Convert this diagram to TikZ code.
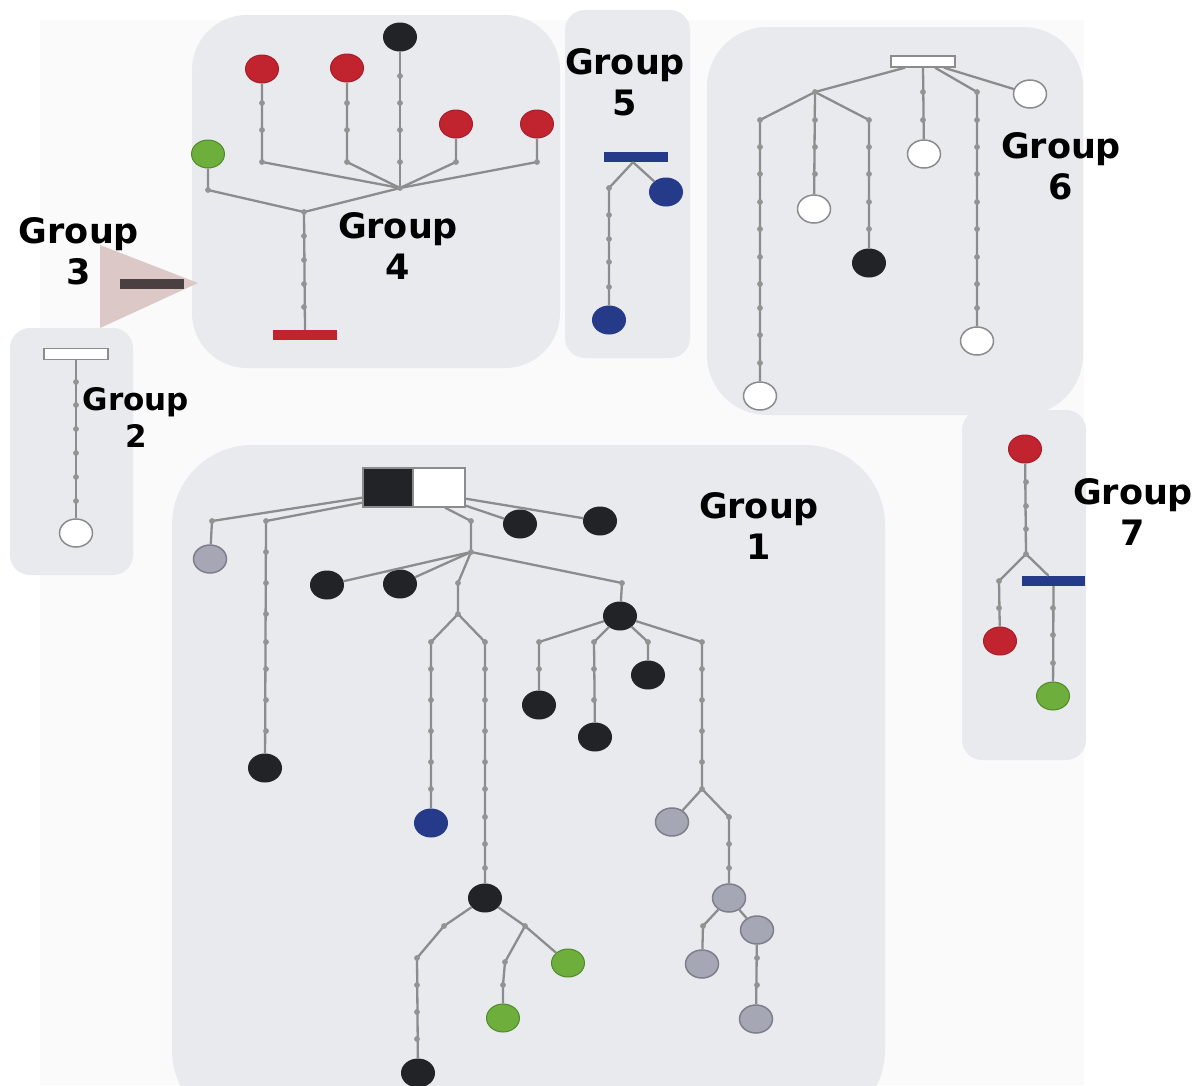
\documentclass[tikz,border=0pt]{standalone}
\usepackage{fontspec}
\newfontfamily\grpfont{DejaVu Sans}
\usetikzlibrary{shapes.geometric}
\definecolor{edgec}{HTML}{8C8C8C}
\definecolor{dotc}{HTML}{939393}
\definecolor{boxc}{HTML}{E9EAEE}
\definecolor{bgc}{HTML}{FAFAFB}
\definecolor{nblack}{HTML}{222326}
\definecolor{nred}{HTML}{C1242F}
\definecolor{nredd}{HTML}{A81E28}
\definecolor{nblue}{HTML}{263A8A}
\definecolor{ngreen}{HTML}{6DAE3C}
\definecolor{ngreend}{HTML}{4F8A2A}
\definecolor{ngrey}{HTML}{A5A7B5}
\definecolor{ngreyd}{HTML}{7D7F8B}
\definecolor{tric}{HTML}{DCC9C7}
\definecolor{barc}{HTML}{4B4041}
\begin{document}
\begin{tikzpicture}[x=1pt,y=-1pt,
  edge/.style={draw=edgec, line width=2.3pt},
  nd/.style={ellipse, minimum width=33pt, minimum height=28pt, inner sep=0pt, line width=1pt},
  cblack/.style={nd, fill=nblack, draw=nblack},
  cred/.style={nd, fill=nred, draw=nredd},
  cblue/.style={nd, fill=nblue, draw=nblue},
  cgreen/.style={nd, fill=ngreen, draw=ngreend},
  cgrey/.style={nd, fill=ngrey, draw=ngreyd, line width=1.5pt},
  cwhite/.style={nd, fill=white, draw=edgec, line width=1.5pt},
  barbox/.style={rectangle, minimum width=64pt, minimum height=10pt, inner sep=0pt},
  lbl/.style={font=\grpfont\bfseries\fontsize{35}{41}\selectfont, align=center, inner sep=0pt},
  lblsm/.style={font=\grpfont\bfseries\fontsize{31}{37}\selectfont, align=center, inner sep=0pt}
]
\useasboundingbox (0,0) rectangle (1202,1085);
\fill[white] (0,0) rectangle (1202,1085);
\fill[bgc] (40,20) rectangle (1084,1085);

% group boxes
\fill[boxc, rounded corners=55pt] (192,15) rectangle (560,368);
\fill[boxc, rounded corners=20pt] (565,10) rectangle (690,358);
\fill[boxc, rounded corners=20pt] (962,410) rectangle (1086,760);
\fill[boxc, rounded corners=60pt] (707,27) rectangle (1083,415);
\fill[boxc, rounded corners=20pt] (10,328) rectangle (133,575);
\fill[boxc, rounded corners=80pt] (172,445) rectangle (885,1130);
\fill[tric] (100,245) -- (198,283) -- (100,328) -- cycle;

% ---------------- Group 3
\node[barbox, fill=barc] (b3) at (152,284) {};

% ---------------- Group 4
\node[cblack] (k4) at (400,37) {};
\node[cred] (r4a) at (262,69) {};
\node[cred] (r4b) at (347,68) {};
\node[cred] (r4c) at (456,124) {};
\node[cred] (r4d) at (537,124) {};
\node[cgreen] (g4) at (208,154) {};
\node[barbox, fill=nred] (b4) at (305,335) {};
\coordinate (h4) at (400,188);
\coordinate (l4) at (304,212);
\coordinate (j4a) at (262,162);
\coordinate (j4b) at (347,162);
\coordinate (j4c) at (456,162);
\coordinate (j4d) at (537,162);
\coordinate (j4g) at (208,190);
\draw[edge] (r4a) -- (j4a) -- (h4);
\draw[edge] (r4b) -- (j4b) -- (h4);
\draw[edge] (k4) -- (h4);
\draw[edge] (r4c) -- (j4c) -- (h4);
\draw[edge] (r4d) -- (j4d) -- (h4);
\draw[edge] (g4) -- (j4g) -- (l4);
\draw[edge] (h4) -- (l4) -- (b4.north);

% ---------------- Group 5
\node[barbox, fill=nblue] (b5) at (636,157) {};
\node[cblue] (u5a) at (666,192) {};
\node[cblue] (u5b) at (609,320) {};
\coordinate (j5) at (609,188);
\draw[edge] ([xshift=-3pt]b5.south) -- (j5) -- (u5b);
\draw[edge] ([xshift=-3pt]b5.south) -- (u5a);

% ---------------- Group 6
\node[barbox, draw=edgec, fill=white, line width=1.4pt, minimum height=11pt] (b6) at (923,61.5) {};
\node[cwhite] (w6a) at (1030,94) {};
\node[cwhite] (w6b) at (924,154) {};
\node[cwhite] (w6c) at (814,209) {};
\node[cblack] (k6) at (869,263) {};
\node[cwhite] (w6d) at (977,341) {};
\node[cwhite] (w6e) at (760,396) {};
\coordinate (h6) at (815,92);
\coordinate (j6a) at (760,120);
\coordinate (j6b) at (869,120);
\coordinate (j6c) at (977,92);
\draw[edge] ([xshift=-18pt]b6.south) -- (h6);
\draw[edge] (h6) -- (j6a) -- (w6e);
\draw[edge] (h6) -- (w6c);
\draw[edge] (h6) -- (j6b) -- (k6);
\draw[edge] (b6.south) -- (w6b);
\draw[edge] ([xshift=12pt]b6.south) -- (j6c) -- (w6d);
\draw[edge] ([xshift=21pt]b6.south) -- (w6a);

% ---------------- Group 2
\node[barbox, draw=edgec, fill=white, line width=1.4pt, minimum height=11pt] (b2) at (76,354) {};
\node[cwhite] (w2) at (76,533) {};
\draw[edge] (b2.south) -- (w2);

% ---------------- Group 7
\node[cred] (r7a) at (1025,449) {};
\node[cred] (r7b) at (1000,641) {};
\node[cgreen] (g7) at (1053,696) {};
\node[barbox, fill=nblue, minimum width=63pt] (b7) at (1053.5,581) {};
\coordinate (j7a) at (1026,554);
\coordinate (j7b) at (999,581);
\draw[edge] (r7a) -- (j7a) -- (j7b) -- (r7b);
\draw[edge] (j7a) -- ([xshift=-5pt]b7.north);
\draw[edge] (b7.south) -- (g7);

% ---------------- Group 1
\node[rectangle, fill=nblack, draw=edgec, line width=1.3pt, minimum width=50pt, minimum height=39pt, inner sep=0pt] (rk) at (388,487.5) {};
\node[rectangle, fill=white, draw=edgec, line width=1.3pt, minimum width=52pt, minimum height=39pt, inner sep=0pt] (rw) at (439,487.5) {};
\node[cgrey] (q1a) at (210,559) {};
\node[cblack] (k1a) at (265,768) {};
\node[cblack] (k1b) at (520,524) {};
\node[cblack] (k1c) at (600,521) {};
\node[cblack] (k1d) at (327,585) {};
\node[cblack] (k1e) at (400,584) {};
\node[cblue] (u1) at (431,823) {};
\node[cblack] (k1f) at (485,898) {};
\node[cblack] (k1g) at (418,1073) {};
\node[cgreen] (g1a) at (568,963) {};
\node[cgreen] (g1b) at (503,1018) {};
\node[cblack] (k1h) at (620,616) {};
\node[cblack] (k1i) at (539,705) {};
\node[cblack] (k1j) at (595,737) {};
\node[cblack] (k1k) at (648,675) {};
\node[cgrey] (q1b) at (672,822) {};
\node[cgrey] (q1c) at (729,898) {};
\node[cgrey] (q1d) at (702,964) {};
\node[cgrey] (q1e) at (757,930) {};
\node[cgrey] (q1f) at (756,1019) {};
\coordinate (j1a) at (212,521);
\coordinate (j1b) at (266,521);
\coordinate (j1c) at (471,521);
\coordinate (h1) at (471,552);
\coordinate (j1d) at (458,583);
\coordinate (j1e) at (458,614);
\coordinate (j1f) at (431,642);
\coordinate (j1g) at (485,642);
\coordinate (j1h) at (622,583);
\coordinate (j1i) at (539,642);
\coordinate (j1j) at (594,642);
\coordinate (j1k) at (648,642);
\coordinate (j1l) at (702,642);
\coordinate (j1m) at (702,789);
\coordinate (j1n) at (729,817);
\coordinate (j1o) at (703,926);
\coordinate (j1p) at (444,926);
\coordinate (j1q) at (417,958);
\coordinate (j1r) at (525,926);
\coordinate (j1s) at (505,962);
\coordinate (j1t) at (503,985);
\draw[edge] ([yshift=10pt]rk.south west) -- (j1a) -- (q1a);
\draw[edge] ([yshift=5pt]rk.south west) -- (j1b) -- (k1a);
\draw[edge] ([xshift=6pt]rw.south) -- (j1c) -- (h1);
\draw[edge] ([yshift=2pt]rw.south east) -- (k1b);
\draw[edge] ([yshift=9pt]rw.south east) -- (k1c);
\draw[edge] (h1) -- (k1d);
\draw[edge] (h1) -- (k1e);
\draw[edge] (h1) -- (j1d) -- (j1e);
\draw[edge] (j1e) -- (j1f) -- (u1);
\draw[edge] (j1e) -- (j1g) -- (k1f);
\draw[edge] (h1) -- (j1h) -- (k1h);
\draw[edge] (k1h) -- (j1i) -- (k1i);
\draw[edge] (k1h) -- (j1j) -- (k1j);
\draw[edge] (k1h) -- (j1k) -- (k1k);
\draw[edge] (k1h) -- (j1l) -- (j1m);
\draw[edge] (j1m) -- (q1b);
\draw[edge] (j1m) -- (j1n) -- (q1c);
\draw[edge] (q1c) -- (j1o) -- (q1d);
\draw[edge] (q1c) -- (q1e);
\draw[edge] (q1e) -- (q1f);
\draw[edge] (k1f) -- (j1p) -- (j1q) -- (k1g);
\draw[edge] (k1f) -- (j1r) -- (g1a);
\draw[edge] (j1r) -- (j1s) -- (j1t) -- (g1b);

% ---------------- small dots along connectors
\foreach \p in {
  (262,103),(262,130),(262,162),(347,103),(347,130),(347,162),
  (400,76),(400,103),(400,130),(400,162),(456,162),(537,162),(208,190),
  (400,188),(304,212),(304,236),(304,260),(304,284),(304,307),
  (609,188),(609,215),(609,239),(609,262),(609,287),
  (815,92),(760,120),(869,120),(977,92),(923,92),(923,120),
  (977,120),(977,147),(977,174),(977,202),(977,229),(977,257),(977,284),(977,308),
  (760,147),(760,174),(760,202),(760,229),(760,257),(760,284),(760,308),(760,335),(760,363),
  (815,120),(815,147),(815,174),(869,147),(869,174),(869,202),(869,229),
  (76,382),(76,405),(76,429),(76,453),(76,477),(76,501),
  (212,521),(266,521),(266,552),(266,583),(266,614),(266,642),(266,669),(266,700),(266,731),
  (471,521),(471,552),(458,583),(458,614),(431,642),(485,642),
  (431,669),(431,700),(431,731),(431,762),(431,789),
  (485,669),(485,700),(485,731),(485,762),(485,789),(485,817),(485,844),(485,868),
  (622,583),(539,642),(594,642),(648,642),(702,642),
  (539,669),(594,669),(594,700),(702,669),(702,700),(702,731),(702,762),(702,789),
  (729,817),(729,844),(729,868),(703,926),(757,958),(757,985),
  (444,926),(417,958),(417,985),(417,1012),(417,1039),
  (525,926),(505,962),(503,985),
  (1026,482),(1026,506),(1026,529),(1026,554),(999,581),(999,608),
  (1053,608),(1053,635),(1053,663)}
  \fill[dotc] \p circle (2.9pt);

% ---------------- labels
\node[lbl] (t3) at (79,251) {Group\\3};
\node[lbl] (t4) at (398,246) {Group\\4};
\node[lbl] (t5) at (625,82) {Group\\5};
\node[lbl] (t6) at (1061,166) {Group\\6};
\node[lblsm] (t2) at (136,417) {Group\\2};
\node[lbl] (t1) at (759,526) {Group\\1};
\node[lbl] (t7) at (1133,512) {Group\\7};
\end{tikzpicture}
\end{document}
